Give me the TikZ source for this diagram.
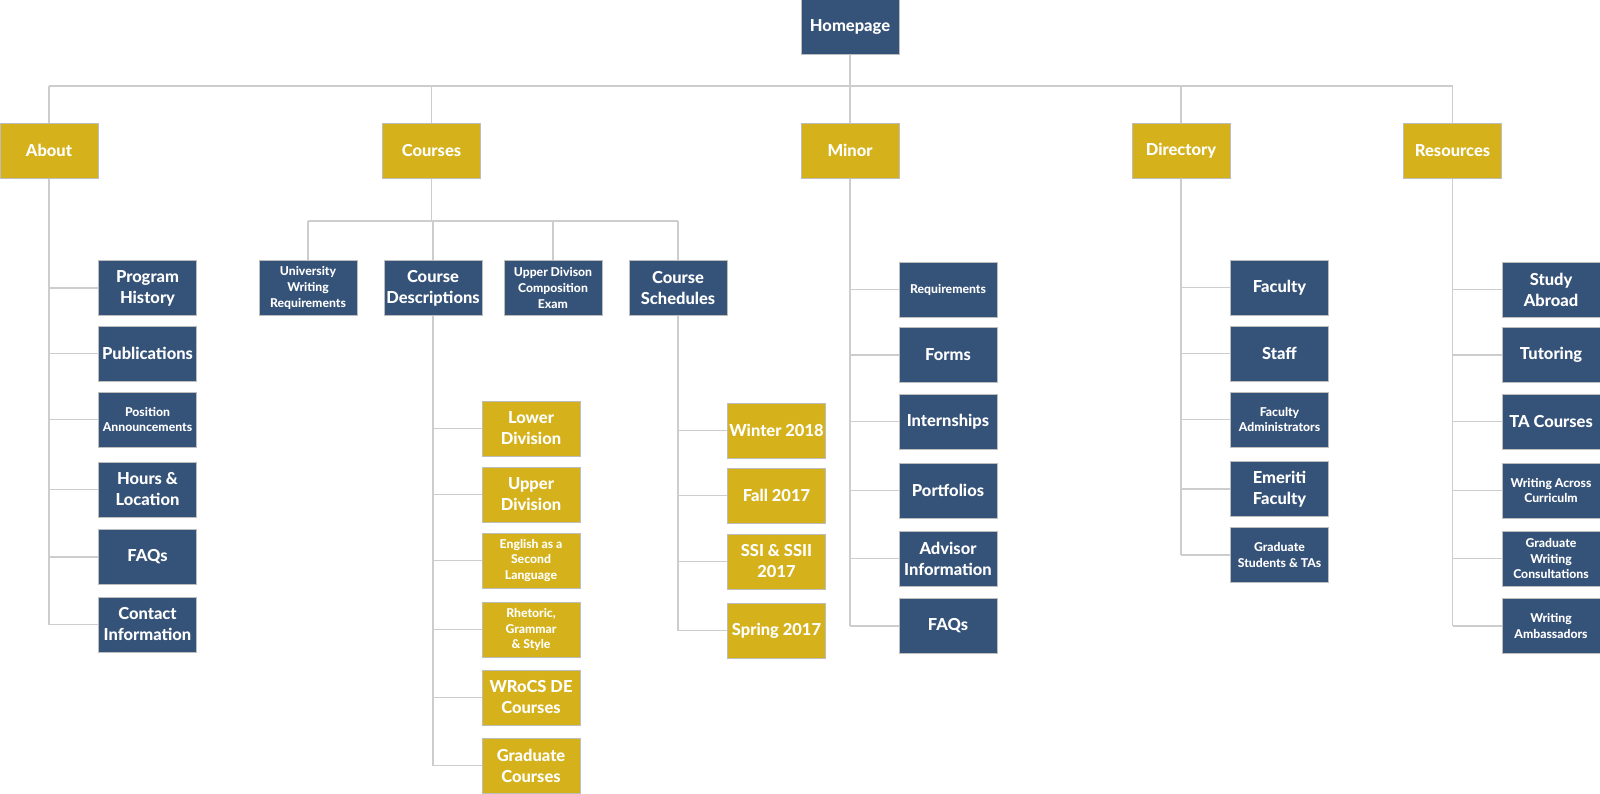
\documentclass[tikz,border=0pt]{standalone}
\usepackage{fontspec}
\setmainfont{Lato}[BoldFont={Lato Heavy}]
\usetikzlibrary{backgrounds}

\definecolor{navy}{HTML}{355278}
\definecolor{gold}{HTML}{D5B21B}
\definecolor{wirecol}{HTML}{CDCDCD}
\definecolor{rim}{HTML}{BDBDBD}

\tikzset{
  cell/.style={draw=rim, line width=0.8pt, minimum width=98pt, minimum height=55pt,
    inner sep=1pt, align=center, text=white, font=\fontsize{16.5}{21}\selectfont\bfseries},
  navycell/.style={cell, fill=navy},
  goldcell/.style={cell, fill=gold},
  smalltext/.style={font=\fontsize{12.2}{15.7}\selectfont\bfseries},
  wire/.style={draw=wirecol, line width=1.3pt}
}

\begin{document}
\begin{tikzpicture}[x=1pt, y=-1pt]
\useasboundingbox (0,0) rectangle (1600,793);

% root and main sections
\node[navycell] (home) at (850,27) {Homepage};
\node[goldcell] (about) at (49,150.5) {About};
\node[goldcell] (courses) at (431.5,150.5) {Courses};
\node[goldcell] (minor) at (850,150.5) {Minor};
\node[goldcell] (dir) at (1181,150.5) {Directory};
\node[goldcell] (res) at (1452.5,150.5) {Resources};

% About
\node[navycell] (ph) at (147.5,288) {Program\\History};
\node[navycell] (pub) at (147.5,353.5) {Publications};
\node[navycell, smalltext] (pos) at (147.5,419.5) {Position\\Announcements};
\node[navycell] (hrs) at (147.5,489.5) {Hours \&\\Location};
\node[navycell] (faqa) at (147.5,557) {FAQs};
\node[navycell] (contact) at (147.5,624.5) {Contact\\Information};

% Courses
\node[navycell, smalltext] (uwr) at (308,288) {University\\Writing\\Requirements};
\node[navycell] (cd) at (433,288) {Course\\Descriptions};
\node[navycell, smalltext] (udc) at (553,288) {Upper Divison\\Composition\\Exam};
\node[navycell] (cs) at (678,288) {Course\\Schedules};

% Course descriptions
\node[goldcell] (lower) at (531,428.5) {Lower\\Division};
\node[goldcell] (upper) at (531,494.5) {Upper\\Division};
\node[goldcell, smalltext] (esl) at (531,560.5) {English as a\\Second\\Language};
\node[goldcell, smalltext] (rgs) at (531,629.5) {Rhetoric,\\Grammar\\\& Style};
\node[goldcell] (wrocs) at (531,697.5) {WRoCS DE\\Courses};
\node[goldcell] (grad) at (531,765.5) {Graduate\\Courses};

% Course schedules
\node[goldcell] (winter) at (776.5,430.5) {Winter 2018};
\node[goldcell] (fall) at (776.5,495.5) {Fall 2017};
\node[goldcell] (ssi) at (776.5,561.5) {SSI \& SSII\\2017};
\node[goldcell] (spring) at (776.5,630.5) {Spring 2017};

% Minor
\node[navycell, smalltext] (req) at (948,289.5) {Requirements};
\node[navycell] (forms) at (948,355) {Forms};
\node[navycell] (intern) at (948,421.5) {Internships};
\node[navycell] (port) at (948,490.5) {Portfolios};
\node[navycell] (adv) at (948,558.5) {Advisor\\Information};
\node[navycell] (faqm) at (948,626) {FAQs};

% Directory
\node[navycell] (fac) at (1279.5,287.5) {Faculty};
\node[navycell] (staff) at (1279.5,353.5) {Staff};
\node[navycell, smalltext] (facadm) at (1279.5,419.5) {Faculty\\Administrators};
\node[navycell] (emer) at (1279.5,489) {Emeriti\\Faculty};
\node[navycell, smalltext] (gst) at (1279.5,555) {Graduate\\Students \& TAs};

% Resources
\node[navycell] (study) at (1551,289.5) {Study\\Abroad};
\node[navycell] (tutor) at (1551,355) {Tutoring};
\node[navycell] (ta) at (1551,421.5) {TA Courses};
\node[navycell, smalltext] (wac) at (1551,490.5) {Writing Across\\Curriculm};
\node[navycell, smalltext] (gwc) at (1551,558.5) {Graduate\\Writing\\Consultations};
\node[navycell, smalltext] (amb) at (1551,626) {Writing\\Ambassadors};

\coordinate (bar) at (0,86);
\coordinate (subbar) at (0,221);

\begin{scope}[on background layer]
  % top level
  \draw[wire] (home.south) -- (home.south |- bar);
  \draw[wire] (about.north |- bar) -- (res.north |- bar);
  \foreach \n in {about,courses,minor,dir,res}
    \draw[wire] (\n.north |- bar) -- (\n.north);
  % courses sub-level
  \draw[wire] (courses.south) -- (courses.south |- subbar);
  \draw[wire] (uwr.north |- subbar) -- (cs.north |- subbar);
  \foreach \n in {uwr,cd,udc,cs}
    \draw[wire] (\n.north |- subbar) -- (\n.north);
  % side branches
  \draw[wire] (about.south) -- (about.south |- contact.west);
  \foreach \c in {ph,pub,pos,hrs,faqa,contact}
    \draw[wire] (about.south |- \c.west) -- (\c.west);
  \draw[wire] (cd.south) -- (cd.south |- grad.west);
  \foreach \c in {lower,upper,esl,rgs,wrocs,grad}
    \draw[wire] (cd.south |- \c.west) -- (\c.west);
  \draw[wire] (cs.south) -- (cs.south |- spring.west);
  \foreach \c in {winter,fall,ssi,spring}
    \draw[wire] (cs.south |- \c.west) -- (\c.west);
  \draw[wire] (minor.south) -- (minor.south |- faqm.west);
  \foreach \c in {req,forms,intern,port,adv,faqm}
    \draw[wire] (minor.south |- \c.west) -- (\c.west);
  \draw[wire] (dir.south) -- (dir.south |- gst.west);
  \foreach \c in {fac,staff,facadm,emer,gst}
    \draw[wire] (dir.south |- \c.west) -- (\c.west);
  \draw[wire] (res.south) -- (res.south |- amb.west);
  \foreach \c in {study,tutor,ta,wac,gwc,amb}
    \draw[wire] (res.south |- \c.west) -- (\c.west);
\end{scope}
\end{tikzpicture}
\end{document}
